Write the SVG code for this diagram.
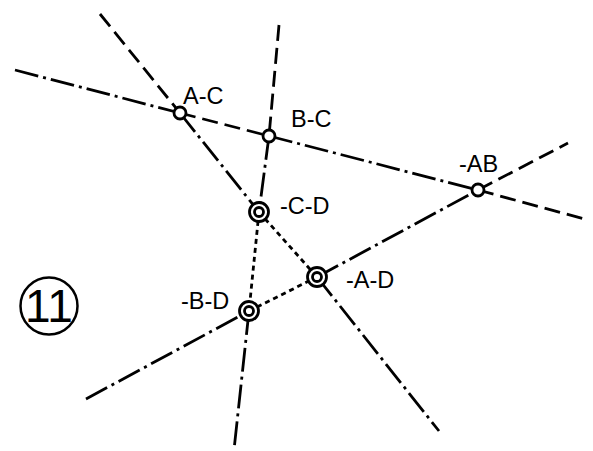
<svg xmlns="http://www.w3.org/2000/svg" width="593" height="451" viewBox="0 0 593 451">
<style>
.ln{stroke:#000;stroke-width:2.8;fill:none;stroke-linecap:butt}
.dd{stroke-dasharray:24 5 3 5}
.da{stroke-dasharray:16 7}
.dt{stroke-dasharray:5 4}
.pt{stroke:#000;stroke-width:2.8;fill:#fff}
.lb{font-family:"Liberation Sans",Arial,sans-serif;font-size:23.5px;fill:#000}
</style>
<rect width="593" height="451" fill="#fff"/>
<g id="connectors">
<line class="ln dd" x1="15" y1="70" x2="180" y2="113"/>
<line class="ln da" x1="180" y1="113" x2="269" y2="136"/>
<line class="ln dd" x1="269" y1="136" x2="478" y2="190"/>
<line class="ln da" x1="478" y1="190" x2="588" y2="220"/>
<line class="ln da" x1="100" y1="14" x2="180" y2="113"/>
<line class="ln dd" x1="180" y1="113" x2="259" y2="212"/>
<line class="ln dt" x1="259" y1="212" x2="317" y2="277"/>
<line class="ln dd" x1="317" y1="277" x2="439" y2="431"/>
<line class="ln da" x1="279" y1="25" x2="269" y2="136"/>
<line class="ln dd" x1="269" y1="136" x2="259" y2="212"/>
<line class="ln dt" x1="259" y1="212" x2="249" y2="311"/>
<line class="ln dd" x1="249" y1="311" x2="234" y2="450"/>
<line class="ln dd" x1="86" y1="399" x2="249" y2="311"/>
<line class="ln dt" x1="249" y1="311" x2="317" y2="277"/>
<line class="ln dd" x1="317" y1="277" x2="478" y2="190"/>
<line class="ln da" x1="478" y1="190" x2="568" y2="143"/>
</g>
<g id="AC"><circle class="pt" cx="180" cy="113" r="6"/><text class="lb" x="183" y="104">A-C</text></g>
<g id="BC"><circle class="pt" cx="269" cy="136" r="6"/><text class="lb" x="291" y="127">B-C</text></g>
<g id="AB"><circle class="pt" cx="478" cy="190" r="6"/><text class="lb" x="459" y="172">-AB</text></g>
<g id="CD"><circle class="pt" cx="259" cy="212" r="9.5"/><circle class="pt" cx="259" cy="212" r="4.5"/><text class="lb" x="280" y="214">-C-D</text></g>
<g id="AD"><circle class="pt" cx="317" cy="277" r="9.5"/><circle class="pt" cx="317" cy="277" r="4.5"/><text class="lb" x="346" y="288">-A-D</text></g>
<g id="BD"><circle class="pt" cx="249" cy="311" r="9.5"/><circle class="pt" cx="249" cy="311" r="4.5"/><text class="lb" x="181" y="309">-B-D</text></g>
<g id="num"><circle cx="49" cy="306" r="28.5" fill="none" stroke="#000" stroke-width="2.5"/><text x="49" y="322" text-anchor="middle" style="font-family:'Liberation Sans',Arial,sans-serif;font-size:46px">11</text></g>
</svg>
